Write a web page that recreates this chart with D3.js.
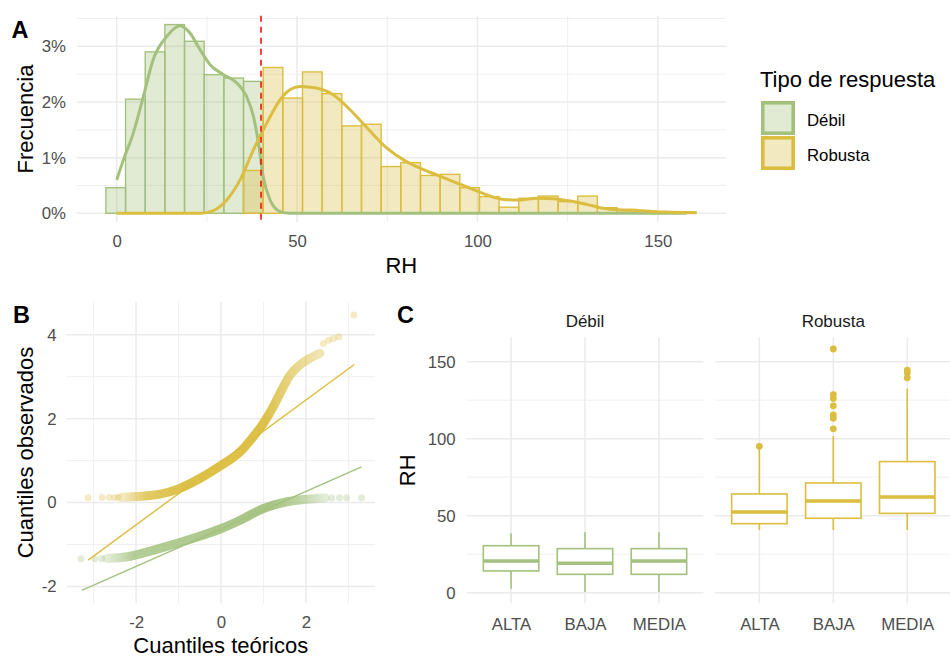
<!DOCTYPE html>
<html>
<head>
<meta charset="utf-8">
<title>RH - tipo de respuesta</title>
<script src="https://cdn.jsdelivr.net/npm/d3@7"></script>
<style>
  body { margin: 0; background: #fff; }
  svg text { font-family: "Liberation Sans", Arial, sans-serif; }
</style>
</head>
<body>
<div id="chart"></div>
<script>
// ---- data ----
var groups = ["Débil", "Robusta"];
var levels = ["ALTA", "BAJA", "MEDIA"];

// histogram, 30 bins, heights in %
var binStart = -3.0, binWidth = 5.45;
var histDebil = [0.46, 2.05, 2.9, 3.39, 3.09, 2.49, 2.43, 2.37];
var histRobusta = [0, 0, 0, 0, 0, 0, 0, 0.77, 2.62, 2.07, 2.54, 2.15, 1.57, 1.6,
                   0.84, 0.91, 0.68, 0.7, 0.46, 0.3, 0.11, 0.27, 0.31, 0.21, 0.31,
                   0.1, 0.07, 0.04, 0.02, 0.02];

// density curves [RH, %]
var densDebil = [[0, 0.6], [1.85, 0.96], [4.6, 1.44], [7.4, 2.1], [10.1, 2.76], [13.9, 3.18],
                 [17.5, 3.37], [20.3, 3.24], [23.1, 2.94], [25.9, 2.67], [29.6, 2.49], [33.3, 2.34],
                 [36, 2.1], [37.9, 1.74], [39.3, 1.26], [40.6, 0.66], [42.5, 0.24], [45.3, 0.03],
                 [48, 0], [100, 0], [158, 0]];
var densRobusta = [[0, 0], [23.1, 0], [26.8, 0.05], [30.5, 0.24], [34.2, 0.6], [37.9, 1.14],
                   [41.6, 1.62], [45.3, 2.04], [48, 2.22], [50.8, 2.28], [55.4, 2.25], [60, 2.13],
                   [64.7, 1.86], [69.3, 1.54], [74.9, 1.17], [79.5, 0.96], [84.1, 0.81], [88.7, 0.69],
                   [93.3, 0.57], [98, 0.45], [102.6, 0.33], [107.2, 0.25], [111.8, 0.24], [116.4, 0.27],
                   [121, 0.26], [125.7, 0.22], [130.3, 0.16], [134.9, 0.09], [139.5, 0.06],
                   [144.2, 0.05], [148.8, 0.03], [153.4, 0.02], [160.8, 0.01]];
var cutoff = 40;

// Q-Q plot: dense part of the point cloud, isolated tail points, reference lines
var qqDebilDense = [[-2.69, -1.33], [-2.22, -1.29], [-1.44, -1.09], [-0.65, -0.85], [-0.02, -0.63],
                    [0.45, -0.42], [1.0, -0.14], [1.55, 0.02], [2.02, 0.08], [2.45, 0.11]];
var qqDebilTail = [[-3.30, -1.34], [-2.97, -1.34], [-2.81, -1.33], [2.61, 0.115], [2.79, 0.115],
                   [2.96, 0.115], [3.31, 0.115]];
var qqRobustaDense = [[-2.34, 0.125], [-1.9, 0.15], [-1.44, 0.2], [-0.97, 0.34], [-0.49, 0.58],
                      [-0.02, 0.87], [0.45, 1.21], [0.76, 1.57], [1.0, 1.89], [1.23, 2.28],
                      [1.43, 2.68], [1.63, 3.04], [1.86, 3.28], [2.10, 3.44], [2.33, 3.56]];
var qqRobustaTail = [[-3.13, 0.115], [-2.80, 0.12], [-2.63, 0.12], [-2.51, 0.12], [-2.42, 0.12],
                     [2.41, 3.79], [2.53, 3.87], [2.65, 3.91], [2.78, 3.95], [3.13, 4.47]];
var qqDebilLine = [[-3.28, -2.09], [3.31, 0.85]];
var qqRobustaLine = [[-3.13, -1.37], [3.14, 3.29]];

// boxplots: [lower whisker, Q1, median, Q3, upper whisker], in levels order
var boxDebil = [[2.6, 14.1, 20.6, 30.5, 38.6], [0.4, 11.9, 19.1, 28.6, 39.2], [0.4, 11.9, 20.6, 28.6, 39.2]];
var boxRobusta = [[40.7, 44.8, 52.4, 64.1, 93.5], [40.7, 48.3, 59.5, 71.2, 101.7], [40.7, 51.5, 62.1, 85.1, 132.5]];
var outDebil = [[], [], []];
var outRobusta = [[95], [158.2, 128.6, 126, 121.3, 115.4, 113.2, 106.4], [144.5, 142.8, 139.5]];

// ---- style ----
var colors = { "Débil": "#A3C17D", "Robusta": "#DBBD3F" };
var gridCol = "#EBEBEB";
var tickCol = "#4D4D4D";
var plain = function(d) { return String(d); };   // ggplot prints "-2", not "−2"

var svg = d3.select("#chart").append("svg")
    .attr("width", 950).attr("height", 658);
svg.append("rect").attr("width", 950).attr("height", 658).attr("fill", "#fff");

function styleAxis(g, size) {
  g.attr("font-family", null).attr("font-size", size || 16.8);
  g.select(".domain").remove();
  g.selectAll(".tick line").remove();
  g.selectAll(".tick text").attr("fill", tickCol);
}

function hGrid(g, y, vals, x0, x1, w) {
  g.selectAll(null).data(vals).enter().append("line")
    .attr("x1", x0).attr("x2", x1)
    .attr("y1", function(d) { return y(d); }).attr("y2", function(d) { return y(d); })
    .attr("stroke", gridCol).attr("stroke-width", w);
}
function vGrid(g, x, vals, y0, y1, w) {
  g.selectAll(null).data(vals).enter().append("line")
    .attr("y1", y0).attr("y2", y1)
    .attr("x1", function(d) { return x(d); }).attr("x2", function(d) { return x(d); })
    .attr("stroke", gridCol).attr("stroke-width", w);
}

function panelLabel(txt, x, y) {
  svg.append("text").attr("x", x).attr("y", y).text(txt)
    .attr("font-size", 23.5).attr("font-weight", "bold").attr("fill", "#000");
}

// ================= Panel A: histogram + density =================
var xA = d3.scaleLinear().domain([-11.09, 168.9]).range([76.7, 726]);
var yA = d3.scaleLinear().domain([-0.156, 3.55]).range([222, 15.7]);
var gA = svg.append("g");

hGrid(gA, yA, [0.5, 1.5, 2.5, 3.5], 76.7, 726, 0.8);
vGrid(gA, xA, [25, 75, 125], 15.7, 222, 0.8);
hGrid(gA, yA, [0, 1, 2, 3], 76.7, 726, 1.5);
vGrid(gA, xA, [0, 50, 100, 150], 15.7, 222, 1.5);

function drawHist(vals, col) {
  var bins = vals.map(function(h, i) { return { x0: binStart + i * binWidth, h: h }; })
    .filter(function(d) { return d.h > 0; });
  gA.selectAll(null).data(bins).enter().append("rect")
    .attr("x", function(d) { return xA(d.x0); })
    .attr("width", function(d) { return xA(d.x0 + binWidth) - xA(d.x0); })
    .attr("y", function(d) { return yA(d.h); })
    .attr("height", function(d) { return yA(0) - yA(d.h); })
    .attr("fill", col).attr("fill-opacity", 0.33)
    .attr("stroke", col).attr("stroke-width", 1.4);
}
drawHist(histDebil, colors["Débil"]);
drawHist(histRobusta, colors["Robusta"]);

var densLine = d3.line()
  .x(function(d) { return xA(d[0]); })
  .y(function(d) { return yA(d[1]); })
  .curve(d3.curveMonotoneX);
gA.append("path").datum(densDebil).attr("d", densLine)
  .attr("fill", "none").attr("stroke", colors["Débil"]).attr("stroke-width", 3);
gA.append("path").datum(densRobusta).attr("d", densLine)
  .attr("fill", "none").attr("stroke", colors["Robusta"]).attr("stroke-width", 3);

gA.append("line")
  .attr("x1", xA(cutoff)).attr("x2", xA(cutoff))
  .attr("y1", 15.7).attr("y2", 222)
  .attr("stroke", "#FF0000").attr("stroke-width", 1.5).attr("stroke-dasharray", "6,5");

gA.append("g").attr("transform", "translate(0,222)")
  .call(d3.axisBottom(xA).tickValues([0, 50, 100, 150]).tickSize(0).tickPadding(13.4))
  .call(styleAxis);
gA.append("g").attr("transform", "translate(76.7,0)")
  .call(d3.axisLeft(yA).tickValues([0, 1, 2, 3]).tickSize(0).tickPadding(10.7)
        .tickFormat(function(d) { return d + "%"; }))
  .call(styleAxis);

gA.append("text").attr("x", xA.range()[0] / 2 + xA.range()[1] / 2).attr("y", 273)
  .attr("text-anchor", "middle").attr("font-size", 22).text("RH");
gA.append("text").attr("transform", "translate(33,119) rotate(-90)")
  .attr("text-anchor", "middle").attr("font-size", 22).text("Frecuencia");

// legend
var leg = svg.append("g");
leg.append("text").attr("x", 760).attr("y", 86.7).attr("font-size", 22).text("Tipo de respuesta");
groups.forEach(function(gname, i) {
  var y0 = 101 + i * 35;
  leg.append("rect").attr("x", 762.8).attr("y", y0 + 1.8).attr("width", 30.4).attr("height", 30.4)
    .attr("fill", colors[gname]).attr("fill-opacity", 0.33)
    .attr("stroke", colors[gname]).attr("stroke-width", 3.6);
  leg.append("text").attr("x", 807).attr("y", y0 + 24.7).attr("font-size", 16.8).text(gname);
});

panelLabel("A", 11.5, 37.7);

// ================= Panel B: Q-Q plot =================
var xB = d3.scaleLinear().domain([-3.635, 3.628]).range([66.7, 375]);
var yB = d3.scaleLinear().domain([-2.40, 4.787]).range([603.3, 301.7]);
var gB = svg.append("g");

hGrid(gB, yB, [-1, 1, 3], 66.7, 375, 0.8);
vGrid(gB, xB, [-3, -1, 1, 3], 301.7, 603.3, 0.8);
hGrid(gB, yB, [-2, 0, 2, 4], 66.7, 375, 1.5);
vGrid(gB, xB, [-2, 0, 2], 301.7, 603.3, 1.5);

var defs = svg.append("defs");
function qqSeries(dense, tail, refLine, col, id, stops) {
  var grad = defs.append("linearGradient").attr("id", id)
    .attr("gradientUnits", "userSpaceOnUse")
    .attr("x1", xB(dense[0][0])).attr("x2", xB(dense[dense.length - 1][0]))
    .attr("y1", 0).attr("y2", 0);
  stops.forEach(function(s) {
    grad.append("stop").attr("offset", s[0]).attr("stop-color", col).attr("stop-opacity", s[1]);
  });
  var line = d3.line()
    .x(function(d) { return xB(d[0]); })
    .y(function(d) { return yB(d[1]); })
    .curve(d3.curveMonotoneX);
  // reference line first, the point cloud covers it
  gB.append("path").datum(refLine).attr("d", d3.line()
      .x(function(d) { return xB(d[0]); })
      .y(function(d) { return yB(d[1]); }))
    .attr("stroke", col).attr("stroke-width", 1.4);
  gB.selectAll(null).data(tail).enter().append("circle")
    .attr("cx", function(d) { return xB(d[0]); })
    .attr("cy", function(d) { return yB(d[1]); })
    .attr("r", 3.5).attr("fill", col).attr("fill-opacity", 0.3);
  gB.append("path").datum(dense).attr("d", line)
    .attr("fill", "none").attr("stroke", "url(#" + id + ")")
    .attr("stroke-width", 9).attr("stroke-linecap", "round");
}
qqSeries(qqDebilDense, qqDebilTail, qqDebilLine, colors["Débil"], "gDeb",
         [[0, 0.3], [0.12, 0.8], [0.75, 0.95], [0.88, 0.7], [1, 0.3]]);
qqSeries(qqRobustaDense, qqRobustaTail, qqRobustaLine, colors["Robusta"], "gRob",
         [[0, 0.3], [0.12, 0.8], [0.3, 0.95], [0.72, 0.95], [0.85, 0.65], [1, 0.4]]);

gB.append("g").attr("transform", "translate(0,603.3)")
  .call(d3.axisBottom(xB).tickValues([-2, 0, 2]).tickFormat(plain).tickSize(0).tickPadding(13.1))
  .call(styleAxis);
gB.append("g").attr("transform", "translate(66.7,0)")
  .call(d3.axisLeft(yB).tickValues([-2, 0, 2, 4]).tickFormat(plain).tickSize(0).tickPadding(10))
  .call(styleAxis);
gB.append("text").attr("x", 220.8).attr("y", 652.5)
  .attr("text-anchor", "middle").attr("font-size", 22).text("Cuantiles teóricos");
gB.append("text").attr("transform", "translate(33,452.5) rotate(-90)")
  .attr("text-anchor", "middle").attr("font-size", 22).text("Cuantiles observados");

panelLabel("B", 13, 323.3);

// ================= Panel C: boxplots by facet =================
var yC = d3.scaleLinear().domain([-6.9, 165.8]).range([603.3, 337.3]);
var facets = [
  { name: "Débil", x0: 466.7, x1: 703.3, box: boxDebil, out: outDebil },
  { name: "Robusta", x0: 715, x1: 951.6, box: boxRobusta, out: outRobusta }
];
var gC = svg.append("g");

facets.forEach(function(f) {
  var x = d3.scalePoint().domain(levels).range([f.x0, f.x1]).padding(0.6);
  var bw = x.step() * 0.75;
  var col = colors[f.name];
  var g = gC.append("g");
  var xr = Math.min(f.x1, 950);

  hGrid(g, yC, [25, 75, 125], f.x0, xr, 0.8);
  hGrid(g, yC, [0, 50, 100, 150], f.x0, xr, 1.5);
  vGrid(g, x, levels, 337.3, 603.3, 1.5);

  levels.forEach(function(lv, i) {
    var s = f.box[i], cx = x(lv);
    g.append("line").attr("x1", cx).attr("x2", cx).attr("y1", yC(s[3])).attr("y2", yC(s[4]))
      .attr("stroke", col).attr("stroke-width", 1.6);
    g.append("line").attr("x1", cx).attr("x2", cx).attr("y1", yC(s[1])).attr("y2", yC(s[0]))
      .attr("stroke", col).attr("stroke-width", 1.6);
    g.append("rect").attr("x", cx - bw / 2).attr("width", bw)
      .attr("y", yC(s[3])).attr("height", yC(s[1]) - yC(s[3]))
      .attr("fill", "#fff").attr("stroke", col).attr("stroke-width", 1.6);
    g.append("line").attr("x1", cx - bw / 2).attr("x2", cx + bw / 2)
      .attr("y1", yC(s[2])).attr("y2", yC(s[2]))
      .attr("stroke", col).attr("stroke-width", 3.4);
    g.selectAll(null).data(f.out[i]).enter().append("circle")
      .attr("cx", cx).attr("cy", function(d) { return yC(d); })
      .attr("r", 3.4).attr("fill", col);
  });

  g.append("g").attr("transform", "translate(0,603.3)")
    .call(d3.axisBottom(x).tickSize(0).tickPadding(14.8))
    .call(styleAxis);
  g.append("text").attr("x", (f.x0 + f.x1) / 2).attr("y", 326.7)
    .attr("text-anchor", "middle").attr("font-size", 17).attr("fill", "#1A1A1A").text(f.name);
});

gC.append("g").attr("transform", "translate(466.7,0)")
  .call(d3.axisLeft(yC).tickValues([0, 50, 100, 150]).tickSize(0).tickPadding(11))
  .call(styleAxis);
gC.append("text").attr("transform", "translate(415,470.3) rotate(-90)")
  .attr("text-anchor", "middle").attr("font-size", 22).text("RH");

panelLabel("C", 397, 323.3);
</script>
</body>
</html>
